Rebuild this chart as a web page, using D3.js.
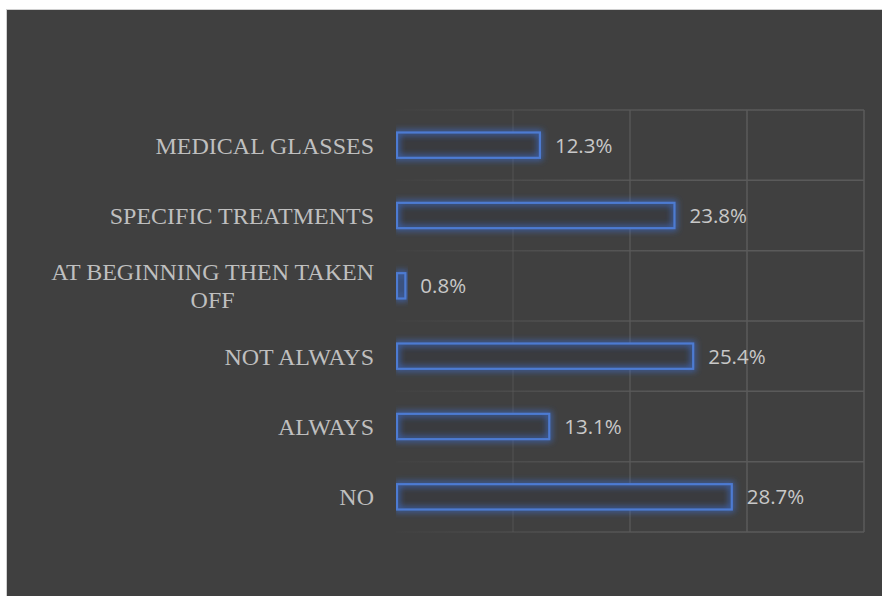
<!DOCTYPE html>
<html>
<head>
<meta charset="utf-8">
<script src="https://cdn.jsdelivr.net/npm/d3@7"></script>
<style>
  html, body { margin: 0; padding: 0; background: #ffffff; }
  svg { display: block; }
</style>
</head>
<body>
<div id="chart"></div>
<script>
// Categories, top to bottom
const categories = [
  "MEDICAL GLASSES",
  "SPECIFIC TREATMENTS",
  "AT BEGINNING THEN TAKEN OFF",
  "NOT ALWAYS",
  "ALWAYS",
  "NO"
];
// Share of respondents (%)
const values = [12.3, 23.8, 0.8, 25.4, 13.1, 28.7];
// Axis ticks (gridlines only, labels hidden)
const xTicks = [0, 10, 20, 30, 40];
// Wrapped category labels
const labelLines = {
  "AT BEGINNING THEN TAKEN OFF": ["AT BEGINNING THEN TAKEN", "OFF"]
};

const W = 882, H = 596;
const svg = d3.select("#chart").append("svg")
  .attr("width", W).attr("height", H);

const defs = svg.append("defs");

// Gridline fade from left to right
const grad = defs.append("linearGradient")
  .attr("id", "gridFade")
  .attr("gradientUnits", "userSpaceOnUse")
  .attr("x1", 396).attr("y1", 0).attr("x2", 700).attr("y2", 0);
grad.append("stop").attr("offset", "0%").attr("stop-color", "#5a5a5a").attr("stop-opacity", 0.05);
grad.append("stop").attr("offset", "60%").attr("stop-color", "#5a5a5a").attr("stop-opacity", 0.7);
grad.append("stop").attr("offset", "100%").attr("stop-color", "#5a5a5a").attr("stop-opacity", 1);

// Soft blur used for the bar glow
defs.append("filter").attr("id", "glow")
  .attr("x", "-30%").attr("y", "-100%").attr("width", "160%").attr("height", "300%")
  .append("feGaussianBlur").attr("stdDeviation", 3.2);

defs.append("clipPath").attr("id", "plotClip")
  .append("rect").attr("x", 396).attr("y", 90).attr("width", 500).attr("height", 470);

// Chart background
svg.append("rect")
  .attr("x", 6.5).attr("y", 9.5).attr("width", W).attr("height", H)
  .attr("fill", "#404040")
  .attr("stroke", "#d0d0d0").attr("stroke-width", 1);

const x = d3.scaleLinear().domain([0, 40]).range([396, 864]);
const y = d3.scaleBand().domain(categories).range([110, 532]).paddingInner(0.64).paddingOuter(0.32);
const band = (y.range()[1] - y.range()[0]) / categories.length;

// Gridlines
const grid = svg.append("g").attr("stroke", "url(#gridFade)").attr("stroke-width", 1.5);
grid.selectAll("line.v").data(xTicks.slice(1)).join("line")
  .attr("class", "v")
  .attr("x1", d => x(d)).attr("x2", d => x(d))
  .attr("y1", 110).attr("y2", 532);
grid.selectAll("line.h").data(d3.range(categories.length + 1)).join("line")
  .attr("class", "h")
  .attr("x1", x(0)).attr("x2", x(40))
  .attr("y1", i => 110 + i * band).attr("y2", i => 110 + i * band);

// Bars: dark fill, blurred blue halo, crisp blue outline
const bars = svg.append("g").attr("clip-path", "url(#plotClip)");
const barX = () => x(0) + 1;
const barW = (d, i) => x(values[i]) - x(0) - 1;
bars.selectAll("rect.fill").data(categories).join("rect")
  .attr("class", "fill")
  .attr("x", barX).attr("y", d => y(d))
  .attr("width", barW).attr("height", y.bandwidth())
  .attr("fill", "#3a3b3f");
bars.selectAll("rect.halo").data(categories).join("rect")
  .attr("class", "halo")
  .attr("x", barX).attr("y", d => y(d))
  .attr("width", barW).attr("height", y.bandwidth())
  .attr("fill", "none")
  .attr("stroke", "#3f6fd0")
  .attr("stroke-width", 5)
  .attr("stroke-opacity", 0.75)
  .attr("filter", "url(#glow)");
bars.selectAll("rect.edge").data(categories).join("rect")
  .attr("class", "edge")
  .attr("x", barX).attr("y", d => y(d))
  .attr("width", barW).attr("height", y.bandwidth())
  .attr("fill", "none")
  .attr("stroke", "#4d7bd2")
  .attr("stroke-width", 2.2);

// Value labels
svg.append("g").selectAll("text").data(categories).join("text")
  .attr("x", (d, i) => x(values[i]) + 15)
  .attr("y", d => y(d) + y.bandwidth() / 2)
  .attr("dy", "0.36em")
  .attr("font-family", "'Open Sans', sans-serif")
  .attr("font-size", 20.5)
  .attr("fill", "#c8c8c8")
  .text((d, i) => values[i].toFixed(1) + "%");

// Category labels
const labels = svg.append("g")
  .attr("font-family", "'Liberation Serif', 'Times New Roman', serif")
  .attr("font-size", 24)
  .attr("fill", "#bfbfbf");
categories.forEach(c => {
  const lines = labelLines[c] || [c];
  const cy = y(c) + y.bandwidth() / 2;
  const lh = 28.5;
  const t = labels.append("text");
  if (lines.length === 1) {
    t.attr("x", 374).attr("y", cy).attr("dy", "0.35em")
      .attr("text-anchor", "end").text(c);
  } else {
    // measure widest line, center lines within the right-aligned block
    const probe = labels.append("text").text(lines[0]);
    const w = probe.node().getComputedTextLength();
    probe.remove();
    const cx = 374 - w / 2;
    lines.forEach((ln, k) => {
      t.append("tspan")
        .attr("x", cx)
        .attr("y", cy + (k - (lines.length - 1) / 2) * lh)
        .attr("dy", "0.35em")
        .attr("text-anchor", "middle")
        .text(ln);
    });
  }
});
</script>
</body>
</html>
